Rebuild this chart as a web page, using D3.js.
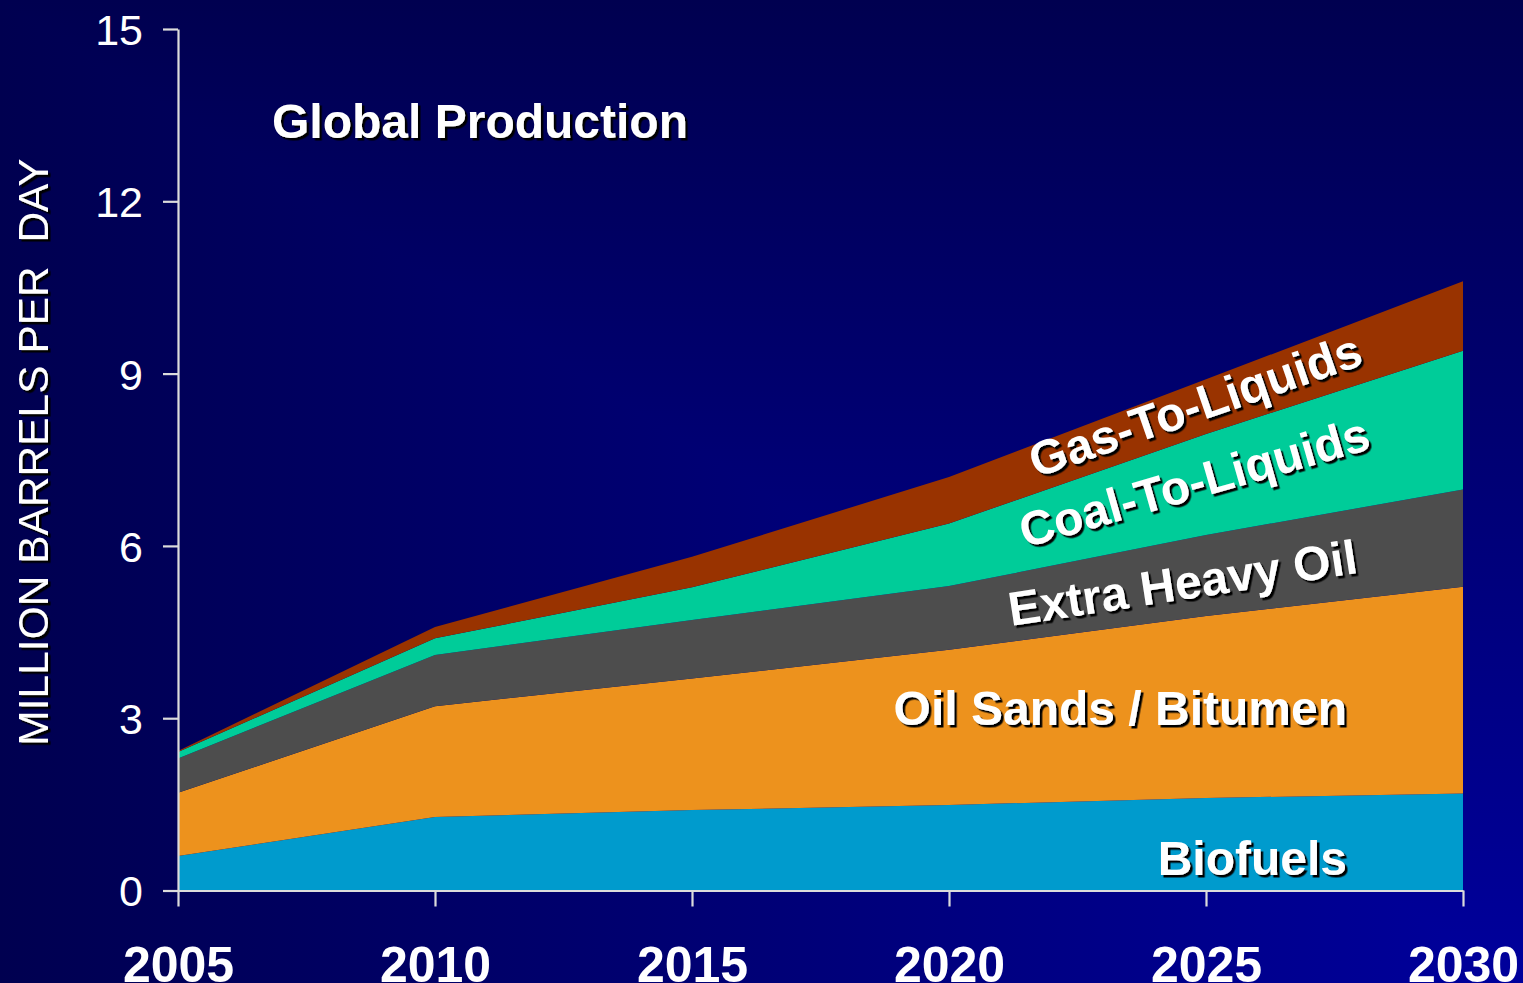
<!DOCTYPE html>
<html>
<head>
<meta charset="utf-8">
<script src="https://cdn.jsdelivr.net/npm/d3@7"></script>
<style>
html,body{margin:0;padding:0;background:#000050;}
svg{display:block;}
text{font-family:"Liberation Sans",Arial,sans-serif;}
</style>
</head>
<body>
<svg id="chart" width="1523" height="983"></svg>
<script>
const years = [2005, 2010, 2015, 2020, 2025, 2030];
const seriesNames = ["Biofuels", "Oil Sands / Bitumen", "Extra Heavy Oil", "Coal-To-Liquids", "Gas-To-Liquids"];
const biofuels   = [0.60, 1.28, 1.40, 1.49, 1.61, 1.69];
const oilSands   = [1.10, 1.93, 2.29, 2.70, 3.17, 3.60];
const extraHeavy = [0.60, 0.89, 1.02, 1.11, 1.41, 1.69];
const coalToLiq  = [0.11, 0.29, 0.57, 1.09, 1.76, 2.42];
const gasToLiq   = [0.02, 0.20, 0.53, 0.81, 0.95, 1.21];
const yTicks = [0, 3, 6, 9, 12, 15];
const colors = ["#009bcd", "#ed921d", "#4d4d4d", "#00cc99", "#993300"];
const title = "Global Production";
const yTitle = "MILLION BARRELS PER  DAY";

const svg = d3.select("#chart");
const W = 1523, H = 983;

const defs = svg.append("defs");
const gh = defs.append("linearGradient").attr("id","bgH")
  .attr("x1","0").attr("y1","0").attr("x2","1").attr("y2","0");
gh.append("stop").attr("offset","0").attr("stop-color","#000050");
gh.append("stop").attr("offset","1").attr("stop-color","#00009c");
const gv = defs.append("linearGradient").attr("id","bgV")
  .attr("x1","0").attr("y1","0").attr("x2","0").attr("y2","1");
gv.append("stop").attr("offset","0").attr("stop-color","#000050");
gv.append("stop").attr("offset","1").attr("stop-color","#00009c");
const f = defs.append("filter").attr("id","shadow").attr("x","-10%").attr("y","-10%").attr("width","130%").attr("height","130%");
f.append("feDropShadow").attr("dx",2.5).attr("dy",2.5).attr("stdDeviation",0.6).attr("flood-color","#000").attr("flood-opacity",1);

const bg = svg.append("g").style("isolation","isolate");
bg.append("rect").attr("width",W).attr("height",H).attr("fill","url(#bgH)");
bg.append("rect").attr("width",W).attr("height",H).attr("fill","url(#bgV)").style("mix-blend-mode","darken");

const x = d3.scaleLinear().domain([2005, 2030]).range([178, 1463]);
const y = d3.scaleLinear().domain([0, 15]).range([890.5, 29]);

const table = years.map((yr,i)=>({
  year: yr,
  s0: biofuels[i], s1: oilSands[i], s2: extraHeavy[i], s3: coalToLiq[i], s4: gasToLiq[i]
}));
const stack = d3.stack().keys(["s0","s1","s2","s3","s4"]);
const layers = stack(table);
const area = d3.area()
  .x(d => x(d.data.year))
  .y0(d => y(d[0]))
  .y1(d => y(d[1]));

svg.append("g").selectAll("path").data(layers).join("path")
  .attr("d", area)
  .attr("fill", (d,i) => colors[i]);

// axes
const axisColor = "#dcdcdc";
const yAxis = svg.append("g").attr("transform", `translate(${x(2005)},0)`)
  .call(d3.axisLeft(y).tickValues(yTicks).tickSize(15).tickPadding(20).tickSizeOuter(0));
const xAxis = svg.append("g").attr("transform", `translate(0,${y(0)})`)
  .call(d3.axisBottom(x).tickValues(years).tickSize(16).tickFormat(d3.format("d")).tickPadding(40).tickSizeOuter(0));
[yAxis, xAxis].forEach(g => {
  g.selectAll(".domain").attr("stroke", axisColor).attr("stroke-width", 2.2);
  g.selectAll(".tick line").attr("stroke", axisColor).attr("stroke-width", 2.2);
});
yAxis.selectAll(".tick text").attr("fill","#fff").attr("font-size",43)
  .attr("font-family","'Liberation Sans',Arial,sans-serif").attr("dy","0.36em").attr("x",-35);
xAxis.selectAll(".tick text").attr("fill","#fff").attr("font-size",50).attr("font-weight","bold")
  .attr("font-family","'Liberation Sans',Arial,sans-serif").attr("dy",0).attr("y",91);

// labels with shadow
const lab = svg.append("g").attr("filter","url(#shadow)").attr("fill","#fff")
  .attr("font-family","'Liberation Sans',Arial,sans-serif");

lab.append("text").attr("x", 272).attr("y", 138).attr("font-size",48).attr("font-weight","bold").text(title);

lab.append("text").attr("transform","translate(48,452) rotate(-90)")
  .attr("text-anchor","middle").attr("font-size",42.5).attr("xml:space","preserve")
  .style("white-space","pre").text(yTitle);

const lbl = [
  {t: seriesNames[0], x: 1347, y: 875, a: 0, anchor:"end"},
  {t: seriesNames[1], x: 1347, y: 725, a: 0, anchor:"end"},
  {t: seriesNames[2], x: 1011, y: 626, a: -8.7, anchor:"start"},
  {t: seriesNames[3], x: 1025, y: 548, a: -16, anchor:"start"},
  {t: seriesNames[4], x: 1036, y: 478, a: -19.1, anchor:"start"}
];
lab.selectAll("text.series").data(lbl).join("text").attr("class","series")
  .attr("transform", d => `translate(${d.x},${d.y}) rotate(${d.a})`)
  .attr("text-anchor", d => d.anchor)
  .attr("font-size", 48).attr("font-weight","bold")
  .text(d => d.t);
</script>
</body>
</html>
